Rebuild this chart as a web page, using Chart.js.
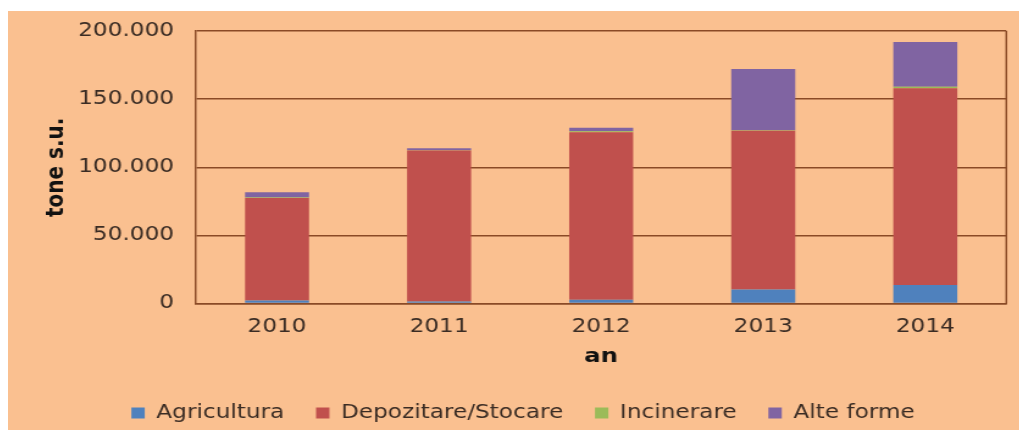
<!DOCTYPE html>
<html>
<head>
<meta charset="utf-8">
<script src="https://cdn.jsdelivr.net/npm/chart.js@4.4.1/dist/chart.umd.min.js"></script>
<style>
    html, body { margin: 0; padding: 0; background: #ffffff; }
    #panel { position: absolute; left: 8px; top: 11px; width: 1011px; height: 419px; background: #fac090; overflow: hidden; }
    /* chart is laid out narrower and stretched sideways, like the exported figure */
    #wrap { position: absolute; left: 0; top: 0; width: 829px; height: 419px; transform: scaleX(1.22); transform-origin: 0 0; }
</style>
</head>
<body>
<div id="panel"><div id="wrap"><canvas id="elementBarChart"></canvas></div></div>
<script>
var years = ["2010", "2011", "2012", "2013", "2014"];
var agricultura = [2200, 1500, 2800, 10200, 13500];
var depozitare = [75300, 110800, 122800, 116600, 144500];
var incinerare = [300, 200, 800, 300, 1000];
var alteForme = [3900, 1500, 2600, 45100, 33000];
var yTicks = [0, 50000, 100000, 150000, 200000];
var yTickLabels = ["0", "50.000", "100.000", "150.000", "200.000"];

var barChart = null;
var gridColor = '#8a4a26';
var tickColor = '#3a2c24';

// closes the plot frame on the right-hand side
var plotFrame = {
    id: 'plotFrame',
    beforeDatasetsDraw: function(chart) {
        var a = chart.chartArea;
        var ctx = chart.ctx;
        ctx.save();
        ctx.strokeStyle = gridColor;
        ctx.lineWidth = 1.5;
        ctx.beginPath();
        ctx.moveTo(a.right, a.top);
        ctx.lineTo(a.right, a.bottom);
        ctx.stroke();
        ctx.restore();
    }
};

function createBarChart()
{
    if (barChart){
        barChart.destroy();
    }
    Chart.defaults.font.family = "'DejaVu Sans', Verdana, sans-serif";
    Chart.defaults.font.size = 19;
    Chart.defaults.color = tickColor;

    barChart = new Chart(document.getElementById('elementBarChart'), {
        type: 'bar',
        data: {
            labels: years,
            datasets: [
                { label: "Agricultura", data: agricultura, backgroundColor: '#4f81bd' },
                { label: "Depozitare/Stocare", data: depozitare, backgroundColor: '#c0504d' },
                { label: "Incinerare", data: incinerare, backgroundColor: '#9bbb59' },
                { label: "Alte forme", data: alteForme, backgroundColor: '#8064a2' }
            ]
        },
        options: {
            responsive: true,
            maintainAspectRatio: false,
            animation: false,
            categoryPercentage: 0.79,
            barPercentage: 0.5,
            layout: { padding: { top: 20, right: 10.7, bottom: -2.5, left: 26 } },
            plugins: {
                tooltip: { enabled: false },
                legend: {
                    position: 'bottom',
                    labels: { boxWidth: 11, boxHeight: 11, padding: 26, color: tickColor }
                }
            },
            scales: {
                x: {
                    stacked: true,
                    grid: { display: false },
                    border: { display: true, color: gridColor, width: 1.5 },
                    ticks: { padding: 4.5, color: tickColor },
                    title: {
                        display: true, text: 'an', color: '#111111',
                        font: { weight: 'bold', size: 20 },
                        padding: { top: 1, bottom: 9.2 }
                    }
                },
                y: {
                    stacked: true,
                    min: 0,
                    max: 200000,
                    afterFit: function(scale) { scale.width = 128.1; },
                    grid: { color: gridColor, lineWidth: 1.5, drawTicks: true, tickLength: 15, tickColor: 'rgba(0,0,0,0)' },
                    border: { display: true, color: gridColor, width: 1.5 },
                    ticks: {
                        stepSize: 50000,
                        padding: 3,
                        color: tickColor,
                        callback: function(value) {
                            var i = yTicks.indexOf(value);
                            return i >= 0 ? yTickLabels[i] : '';
                        }
                    },
                    title: {
                        display: true, text: 'tone s.u.', color: '#111111',
                        font: { weight: 'bold', size: 20 },
                        padding: { top: 1.3, bottom: 0 }
                    }
                }
            }
        },
        plugins: [plotFrame]
    });
}

createBarChart();
</script>
</body>
</html>
